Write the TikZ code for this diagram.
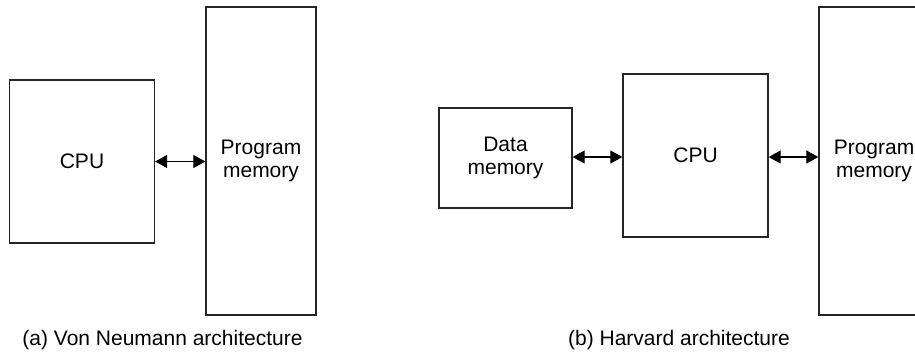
\documentclass[tikz,border=0pt]{standalone}
\usepackage{fontspec}
\setmainfont{Liberation Sans}
\usetikzlibrary{arrows.meta}

\begin{document}
\begin{tikzpicture}[x=1pt,y=-1pt,
  block/.style={draw=black!85, line width=1.3pt, rectangle, inner sep=0pt,
    align=center, font=\fontsize{21}{23.5}\selectfont},
  bus/.style={draw=black, line width=1.1pt,
    {Triangle[length=12pt,width=13pt]}-{Triangle[length=12pt,width=13pt]}},
  caption/.style={anchor=base, inner sep=0pt, font=\fontsize{21}{23.5}\selectfont}]
  \useasboundingbox (0,0) rectangle (915,352);
  \clip (0,0) rectangle (915,352);

  % (a) Von Neumann: one memory for program and data
  \node[block, minimum width=145pt, minimum height=163pt] (cpuA) at (82,161.5) {CPU};
  \node[block, minimum width=110pt, minimum height=308pt] (pmA) at (261,161) {Program\\memory};
  \draw[bus] (cpuA.east) -- (cpuA.east -| pmA.west);
  \node[caption] (capA) at (162.5,345) {(a) Von Neumann architecture};

  % (b) Harvard: separate data and program memories
  \node[block, minimum width=133pt, minimum height=100pt] (dmB) at (505.5,158) {Data\\memory};
  \node[block, minimum width=145pt, minimum height=163pt] (cpuB) at (695.5,155.5) {CPU};
  \node[block, minimum width=110pt, minimum height=308pt] (pmB) at (874,161) {Program\\memory};
  \coordinate (busB) at (0,157);
  \draw[bus] (dmB.east |- busB) -- (cpuB.west |- busB);
  \draw[bus] (cpuB.east |- busB) -- (pmB.west |- busB);
  \node[caption] (capB) at (679,345) {(b) Harvard architecture};
\end{tikzpicture}
\end{document}
